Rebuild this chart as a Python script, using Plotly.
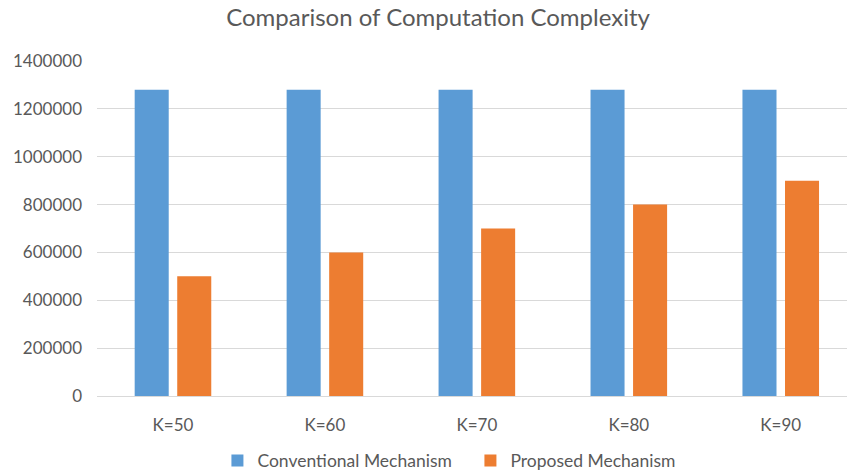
import plotly.graph_objects as go

categories = ["K=50", "K=60", "K=70", "K=80", "K=90"]
conventional = [1280000, 1280000, 1280000, 1280000, 1280000]
proposed = [500000, 600000, 700000, 800000, 900000]
y_ticks = [0, 200000, 400000, 600000, 800000, 1000000, 1200000, 1400000]

BLUE = "#5B9BD5"
ORANGE = "#ED7D31"
TEXT = "#595959"
GRID = "#D9D9D9"
FONT = "Lato"

fig = go.Figure()
fig.add_trace(go.Bar(name="Conventional Mechanism", x=categories, y=conventional,
                     marker=dict(color=BLUE, line=dict(width=0))))
fig.add_trace(go.Bar(name="Proposed Mechanism", x=categories, y=proposed,
                     marker=dict(color=ORANGE, line=dict(width=0))))

fig.update_layout(
    width=847, height=476,
    margin=dict(l=97, r=0, t=61, b=80, autoexpand=False),
    paper_bgcolor="white", plot_bgcolor="white",
    barmode="group", bargap=0.44, bargroupgap=0.2,
    font=dict(family=FONT, color=TEXT, size=17),
    title=dict(text="Comparison of Computation Complexity",
               x=438 / 847, xanchor="center", y=1 - 18 / 476, yanchor="middle",
               font=dict(family=FONT, size=24, color=TEXT)),
    legend=dict(orientation="h", x=136 / 847, xanchor="left",
                y=-0.193, yanchor="middle", itemwidth=30, entrywidth=208,
                font=dict(family=FONT, size=17.5, color=TEXT)),
    xaxis=dict(range=[-0.5, 4.436], showgrid=False, showline=True,
               linecolor=GRID, linewidth=1, ticks="", ticklabelstandoff=14,
               tickfont=dict(family=FONT, size=17, color=TEXT)),
    yaxis=dict(range=[0, 1400000], tickvals=y_ticks, ticktext=[str(v) for v in y_ticks],
               showgrid=True, gridcolor=GRID, gridwidth=1, zeroline=False,
               ticks="", ticklabelstandoff=14,
               tickfont=dict(family=FONT, size=17, color=TEXT)),
)

fig.write_html("out.html")
